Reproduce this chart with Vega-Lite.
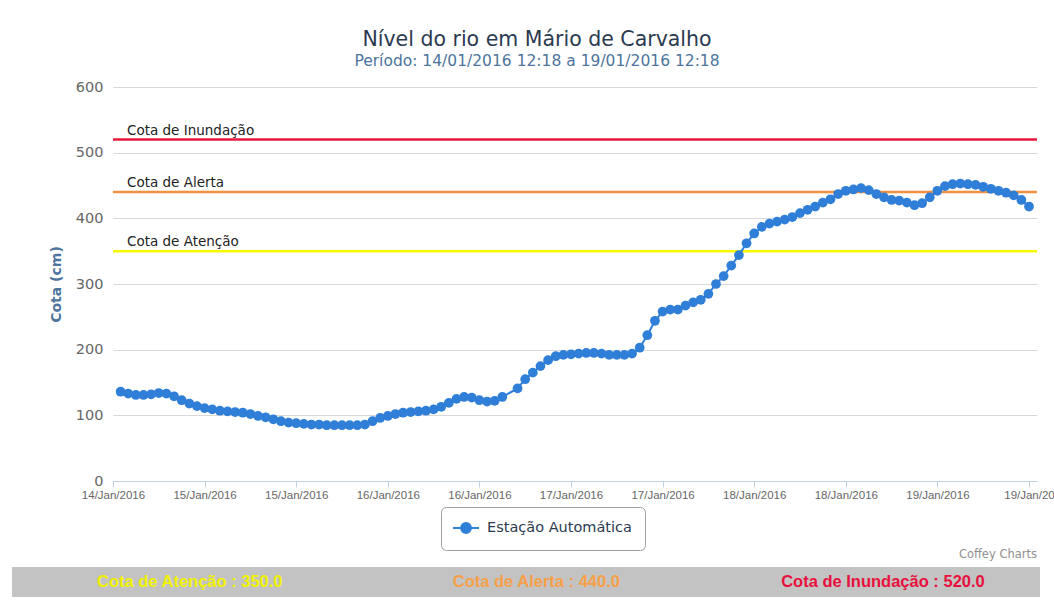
{
  "$schema": "https://vega.github.io/schema/vega-lite/v6.json",
  "background": "white",
  "padding": {"left": 12, "top": 30, "right": 0, "bottom": 0},
  "spacing": 47,
  "config": {"view": {"stroke": null}, "font": "DejaVu Sans"},
  "datasets": {
    "serie": [
      {"t": "2016-01-14T13:18:00", "cota": 136}, {"t": "2016-01-14T14:18:00", "cota": 133}, {"t": "2016-01-14T15:18:00", "cota": 131},
      {"t": "2016-01-14T16:18:00", "cota": 131}, {"t": "2016-01-14T17:18:00", "cota": 132}, {"t": "2016-01-14T18:18:00", "cota": 134},
      {"t": "2016-01-14T19:18:00", "cota": 133}, {"t": "2016-01-14T20:18:00", "cota": 129}, {"t": "2016-01-14T21:18:00", "cota": 123},
      {"t": "2016-01-14T22:18:00", "cota": 118}, {"t": "2016-01-14T23:18:00", "cota": 114}, {"t": "2016-01-15T00:18:00", "cota": 111},
      {"t": "2016-01-15T01:18:00", "cota": 109}, {"t": "2016-01-15T02:18:00", "cota": 107}, {"t": "2016-01-15T03:18:00", "cota": 106},
      {"t": "2016-01-15T04:18:00", "cota": 105}, {"t": "2016-01-15T05:18:00", "cota": 104}, {"t": "2016-01-15T06:18:00", "cota": 102},
      {"t": "2016-01-15T07:18:00", "cota": 99}, {"t": "2016-01-15T08:18:00", "cota": 97}, {"t": "2016-01-15T09:18:00", "cota": 94},
      {"t": "2016-01-15T10:18:00", "cota": 91}, {"t": "2016-01-15T11:18:00", "cota": 89}, {"t": "2016-01-15T12:18:00", "cota": 88},
      {"t": "2016-01-15T13:18:00", "cota": 87}, {"t": "2016-01-15T14:18:00", "cota": 86}, {"t": "2016-01-15T15:18:00", "cota": 86},
      {"t": "2016-01-15T16:18:00", "cota": 85}, {"t": "2016-01-15T17:18:00", "cota": 85}, {"t": "2016-01-15T18:18:00", "cota": 85},
      {"t": "2016-01-15T19:18:00", "cota": 85}, {"t": "2016-01-15T20:18:00", "cota": 85}, {"t": "2016-01-15T21:18:00", "cota": 86},
      {"t": "2016-01-15T22:18:00", "cota": 91}, {"t": "2016-01-15T23:18:00", "cota": 96}, {"t": "2016-01-16T00:18:00", "cota": 99},
      {"t": "2016-01-16T01:18:00", "cota": 102}, {"t": "2016-01-16T02:18:00", "cota": 104}, {"t": "2016-01-16T03:18:00", "cota": 105},
      {"t": "2016-01-16T04:18:00", "cota": 106}, {"t": "2016-01-16T05:18:00", "cota": 107}, {"t": "2016-01-16T06:18:00", "cota": 109},
      {"t": "2016-01-16T07:18:00", "cota": 113}, {"t": "2016-01-16T08:18:00", "cota": 119}, {"t": "2016-01-16T09:18:00", "cota": 125},
      {"t": "2016-01-16T10:18:00", "cota": 128}, {"t": "2016-01-16T11:18:00", "cota": 127}, {"t": "2016-01-16T12:18:00", "cota": 123},
      {"t": "2016-01-16T13:18:00", "cota": 121}, {"t": "2016-01-16T14:18:00", "cota": 122}, {"t": "2016-01-16T15:18:00", "cota": 128},
      {"t": "2016-01-16T17:18:00", "cota": 141}, {"t": "2016-01-16T18:18:00", "cota": 155}, {"t": "2016-01-16T19:18:00", "cota": 165},
      {"t": "2016-01-16T20:18:00", "cota": 175}, {"t": "2016-01-16T21:18:00", "cota": 184}, {"t": "2016-01-16T22:18:00", "cota": 190},
      {"t": "2016-01-16T23:18:00", "cota": 192}, {"t": "2016-01-17T00:18:00", "cota": 193}, {"t": "2016-01-17T01:18:00", "cota": 194},
      {"t": "2016-01-17T02:18:00", "cota": 195}, {"t": "2016-01-17T03:18:00", "cota": 195}, {"t": "2016-01-17T04:18:00", "cota": 194},
      {"t": "2016-01-17T05:18:00", "cota": 192}, {"t": "2016-01-17T06:18:00", "cota": 192}, {"t": "2016-01-17T07:18:00", "cota": 192},
      {"t": "2016-01-17T08:18:00", "cota": 194}, {"t": "2016-01-17T09:18:00", "cota": 203}, {"t": "2016-01-17T10:18:00", "cota": 222},
      {"t": "2016-01-17T11:18:00", "cota": 244}, {"t": "2016-01-17T12:18:00", "cota": 258}, {"t": "2016-01-17T13:18:00", "cota": 261},
      {"t": "2016-01-17T14:18:00", "cota": 261}, {"t": "2016-01-17T15:18:00", "cota": 267}, {"t": "2016-01-17T16:18:00", "cota": 272},
      {"t": "2016-01-17T17:18:00", "cota": 276}, {"t": "2016-01-17T18:18:00", "cota": 285}, {"t": "2016-01-17T19:18:00", "cota": 300},
      {"t": "2016-01-17T20:18:00", "cota": 312}, {"t": "2016-01-17T21:18:00", "cota": 328}, {"t": "2016-01-17T22:18:00", "cota": 344},
      {"t": "2016-01-17T23:18:00", "cota": 362}, {"t": "2016-01-18T00:18:00", "cota": 377}, {"t": "2016-01-18T01:18:00", "cota": 387},
      {"t": "2016-01-18T02:18:00", "cota": 392}, {"t": "2016-01-18T03:18:00", "cota": 395}, {"t": "2016-01-18T04:18:00", "cota": 398},
      {"t": "2016-01-18T05:18:00", "cota": 402}, {"t": "2016-01-18T06:18:00", "cota": 408}, {"t": "2016-01-18T07:18:00", "cota": 413},
      {"t": "2016-01-18T08:18:00", "cota": 418}, {"t": "2016-01-18T09:18:00", "cota": 424}, {"t": "2016-01-18T10:18:00", "cota": 429},
      {"t": "2016-01-18T11:18:00", "cota": 437}, {"t": "2016-01-18T12:18:00", "cota": 442}, {"t": "2016-01-18T13:18:00", "cota": 444},
      {"t": "2016-01-18T14:18:00", "cota": 446}, {"t": "2016-01-18T15:18:00", "cota": 443}, {"t": "2016-01-18T16:18:00", "cota": 437},
      {"t": "2016-01-18T17:18:00", "cota": 432}, {"t": "2016-01-18T18:18:00", "cota": 428}, {"t": "2016-01-18T19:18:00", "cota": 427},
      {"t": "2016-01-18T20:18:00", "cota": 424}, {"t": "2016-01-18T21:18:00", "cota": 420}, {"t": "2016-01-18T22:18:00", "cota": 423},
      {"t": "2016-01-18T23:18:00", "cota": 432}, {"t": "2016-01-19T00:18:00", "cota": 442}, {"t": "2016-01-19T01:18:00", "cota": 449},
      {"t": "2016-01-19T02:18:00", "cota": 452}, {"t": "2016-01-19T03:18:00", "cota": 453}, {"t": "2016-01-19T04:18:00", "cota": 452},
      {"t": "2016-01-19T05:18:00", "cota": 451}, {"t": "2016-01-19T06:18:00", "cota": 448}, {"t": "2016-01-19T07:18:00", "cota": 445},
      {"t": "2016-01-19T08:18:00", "cota": 442}, {"t": "2016-01-19T09:18:00", "cota": 439}, {"t": "2016-01-19T10:18:00", "cota": 435},
      {"t": "2016-01-19T11:18:00", "cota": 428}, {"t": "2016-01-19T12:18:00", "cota": 418}
    ],
    "cotas": [
      {"nome": "Cota de Inundação", "cota": 520},
      {"nome": "Cota de Alerta", "cota": 440},
      {"nome": "Cota de Atenção", "cota": 350}
    ],
    "rodape": [
      {"texto": "Cota de Atenção : 350.0"},
      {"texto": "Cota de Alerta : 440.0"},
      {"texto": "Cota de Inundação : 520.0"}
    ]
  },
  "vconcat": [
    {
      "spacing": 36,
      "hconcat": [
        {
          "width": 1,
          "height": 1,
          "data": {"values": []},
          "mark": {"type": "point", "opacity": 0}
        },
        {
          "width": 924,
          "height": 394,
          "title": {
            "text": "Nível do rio em Mário de Carvalho",
            "subtitle": "Período: 14/01/2016 12:18 a 19/01/2016 12:18",
            "font": "DejaVu Sans",
            "fontSize": 20.5,
            "fontWeight": "normal",
            "color": "#2b3a50",
            "subtitleFont": "DejaVu Sans",
            "subtitleFontSize": 15.5,
            "subtitleColor": "#4d759e",
            "subtitlePadding": 3,
            "offset": 10,
            "anchor": "middle",
            "frame": "group",
            "dx": -38
          },
          "layer": [
            {
              "data": {"name": "cotas"},
              "mark": {"type": "rule", "strokeWidth": 2.5},
              "encoding": {
                "y": {"field": "cota", "type": "quantitative", "scale": {"domain": [0, 600], "nice": false}},
                "stroke": {
                  "field": "nome", "type": "nominal",
                  "scale": {"domain": ["Cota de Inundação", "Cota de Alerta", "Cota de Atenção"], "range": ["#e8173c", "#f5913e", "#f7f700"]},
                  "legend": null
                }
              }
            },
            {
              "data": {"name": "cotas"},
              "mark": {"type": "text", "align": "left", "baseline": "alphabetic", "dx": 14, "dy": -5, "font": "DejaVu Sans", "fontSize": 13.5, "color": "#222222"},
              "encoding": {
                "x": {"datum": {"year": 2016, "month": 1, "date": 14, "hours": 12, "minutes": 18}, "type": "temporal"},
                "y": {"field": "cota", "type": "quantitative"},
                "text": {"field": "nome"}
              }
            },
            {
              "data": {"name": "serie"},
              "mark": {"type": "line", "color": "#2f7ed8", "strokeWidth": 2},
              "encoding": {
                "x": {
                  "field": "t", "type": "temporal",
                  "scale": {"domain": [{"year": 2016, "month": 1, "date": 14, "hours": 12, "minutes": 18}, {"year": 2016, "month": 1, "date": 19, "hours": 13, "minutes": 21}], "nice": false},
                  "axis": {
                    "title": null,
                    "values": [
                      {"year": 2016, "month": 1, "date": 14, "hours": 12, "minutes": 18},
                      {"year": 2016, "month": 1, "date": 15, "hours": 0, "minutes": 18},
                      {"year": 2016, "month": 1, "date": 15, "hours": 12, "minutes": 18},
                      {"year": 2016, "month": 1, "date": 16, "hours": 0, "minutes": 18},
                      {"year": 2016, "month": 1, "date": 16, "hours": 12, "minutes": 18},
                      {"year": 2016, "month": 1, "date": 17, "hours": 0, "minutes": 18},
                      {"year": 2016, "month": 1, "date": 17, "hours": 12, "minutes": 18},
                      {"year": 2016, "month": 1, "date": 18, "hours": 0, "minutes": 18},
                      {"year": 2016, "month": 1, "date": 18, "hours": 12, "minutes": 18},
                      {"year": 2016, "month": 1, "date": 19, "hours": 0, "minutes": 18},
                      {"year": 2016, "month": 1, "date": 19, "hours": 12, "minutes": 18}
                    ],
                    "labelExpr": "date(datum.value) == 19 && hours(datum.value) == 12 ? '19/Jan/20' : timeFormat(datum.value, '%d/%b/%Y')",
                    "labelFont": "Liberation Sans",
                    "labelFontSize": 11.5,
                    "labelColor": "#666666",
                    "labelFlush": false,
                    "labelOverlap": false,
                    "labelPadding": 2,
                    "domainColor": "#c0d0e0",
                    "tickColor": "#c0d0e0",
                    "tickSize": 6,
                    "grid": false
                  }
                },
                "y": {
                  "field": "cota", "type": "quantitative",
                  "axis": {
                    "title": "Cota (cm)",
                    "titleFont": "DejaVu Sans",
                    "titleFontSize": 14,
                    "titleFontWeight": "bold",
                    "titleColor": "#4d759e",
                    "titlePadding": 12,
                    "labelFont": "DejaVu Sans",
                    "labelFontSize": 14.5,
                    "labelColor": "#666666",
                    "labelPadding": 10,
                    "ticks": false,
                    "domain": false,
                    "grid": true,
                    "gridColor": "#d8d8d8",
                    "values": [0, 100, 200, 300, 400, 500, 600]
                  }
                }
              }
            },
            {
              "data": {"name": "serie"},
              "mark": {"type": "circle", "size": 95, "opacity": 1},
              "encoding": {
                "x": {"field": "t", "type": "temporal"},
                "y": {"field": "cota", "type": "quantitative"},
                "color": {
                  "datum": "Estação Automática",
                  "type": "nominal",
                  "scale": {"range": ["#2f7ed8"]},
                  "legend": {
                    "title": null,
                    "orient": "none",
                    "legendX": 429,
                    "legendY": 420,
                    "strokeColor": "#a0a0a0",
                    "fillColor": "white",
                    "cornerRadius": 5,
                    "padding": 13,
                    "labelFont": "DejaVu Sans",
                    "labelFontSize": 14.5,
                    "labelColor": "#2b3a50",
                    "labelOffset": 13,
                    "symbolOffset": 4,
                    "symbolType": "M-1.85,0L1.85,0M-0.7,0A0.7,0.7,0,1,1,0.7,0A0.7,0.7,0,1,1,-0.7,0Z",
                    "symbolSize": 196,
                    "symbolStrokeWidth": 2,
                    "symbolFillColor": "#2f7ed8",
                    "symbolStrokeColor": "#2f7ed8",
                    "encode": {
                      "symbols": {
                        "update": {
                          "fill": {"value": "#2f7ed8"},
                          "stroke": {"value": "#2f7ed8"},
                          "strokeWidth": {"value": 2},
                          "opacity": {"value": 1}
                        }
                      }
                    }
                  }
                }
              }
            }
          ]
        }
      ]
    },
    {
      "width": 1028,
      "height": 30,
      "view": {"fill": "#c3c3c3", "stroke": null},
      "title": {
        "text": "Coffey Charts",
        "anchor": "end",
        "frame": "group",
        "font": "DejaVu Sans",
        "fontSize": 11.5,
        "fontWeight": "normal",
        "color": "#909090",
        "offset": 7,
        "dx": -3
      },
      "data": {"name": "rodape"},
      "mark": {"type": "text", "font": "Liberation Sans", "fontSize": 16.5, "fontWeight": "bold"},
      "encoding": {
        "x": {
          "field": "texto", "type": "nominal", "sort": null,
          "scale": {"type": "point", "padding": 0.483, "align": 0.531},
          "axis": null
        },
        "text": {"field": "texto"},
        "fill": {
          "field": "texto", "type": "nominal",
          "scale": {"domain": ["Cota de Atenção : 350.0", "Cota de Alerta : 440.0", "Cota de Inundação : 520.0"], "range": ["#f2f200", "#f7a048", "#e8103c"]},
          "legend": null
        }
      }
    }
  ]
}
